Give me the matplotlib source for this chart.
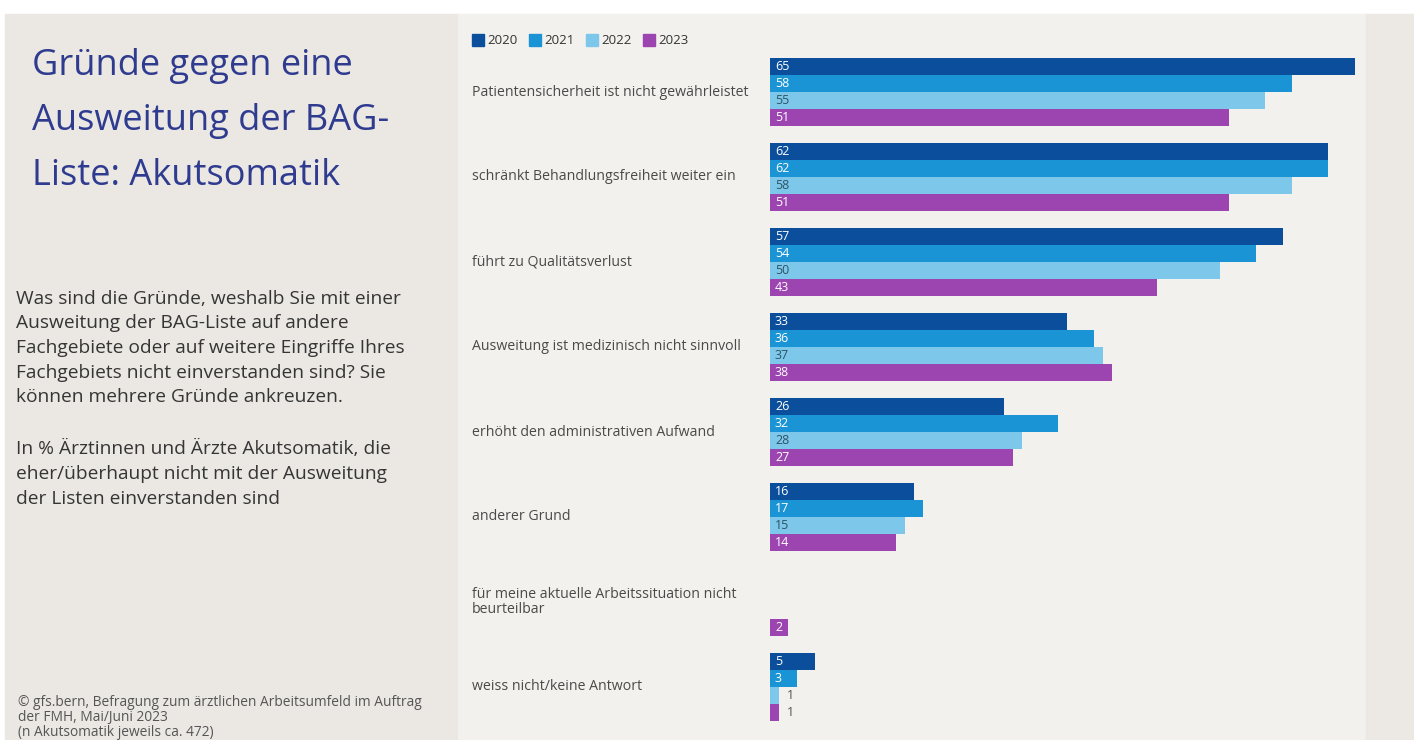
import matplotlib
matplotlib.use("Agg")
import matplotlib.pyplot as plt
import matplotlib.patches as mpatches
import matplotlib.transforms as mtrans
import numpy as np

# data
categories = [
    "Patientensicherheit ist nicht gewährleistet",
    "schränkt Behandlungsfreiheit weiter ein",
    "führt zu Qualitätsverlust",
    "Ausweitung ist medizinisch nicht sinnvoll",
    "erhöht den administrativen Aufwand",
    "anderer Grund",
    "für meine aktuelle Arbeitssituation nicht\nbeurteilbar",
    "weiss nicht/keine Antwort",
]
years = ["2020", "2021", "2022", "2023"]
v2020 = [65, 62, 57, 33, 26, 16, None, 5]
v2021 = [58, 62, 54, 36, 32, 17, None, 3]
v2022 = [55, 58, 50, 37, 28, 15, None, 1]
v2023 = [51, 51, 43, 38, 27, 14, 2, 1]
series = [v2020, v2021, v2022, v2023]

colors = ["#0b4f9c", "#1b94d6", "#7dc8ea", "#9c45b1"]
text_cols = ["white", "white", "#2d5366", "white"]

W, H = 1414, 740
fig = plt.figure(figsize=(W / 100, H / 100), dpi=100, facecolor="white")

def fx(px):
    return px / W

def fy(py):
    return 1 - py / H

# background panels
fig.patches.append(mpatches.Rectangle((fx(5), 0), fx(453), fy(14), transform=fig.transFigure,
                                      color="#ebe8e3", zorder=-10))
fig.patches.append(mpatches.Rectangle((fx(458), 0), fx(908), fy(14), transform=fig.transFigure,
                                      color="#f3f1ed", zorder=-10))
fig.patches.append(mpatches.Rectangle((fx(1366), 0), fx(48), fy(14), transform=fig.transFigure,
                                      color="#ece9e4", zorder=-10))

# axes: x 0..66 -> 770..1364 px, groups centered at 92 + 85*i
ax = fig.add_axes([fx(770), fy(729.5), fx(594), (729.5 - 49.5) / H])
ax.set_xlim(0, 66)
ax.set_ylim(7.5, -0.5)
ax.axis("off")

bh = 0.2
for j, (vals, c, tc) in enumerate(zip(series, colors, text_cols)):
    for i, v in enumerate(vals):
        if v is None:
            continue
        y = i + (j - 1.5) * bh
        ax.barh(y, v, height=bh, color=c, edgecolor="none")
        if v >= 2:
            ax.text(0.55, y, str(v), color=tc, fontsize=9, va="center", ha="left",
                    family="Open Sans")
        else:
            ax.text(v + 0.9, y, str(v), color="#555555", fontsize=9, va="center", ha="left",
                    family="Open Sans")

# category labels
tr = mtrans.blended_transform_factory(fig.transFigure, ax.transData)
for i, cat in enumerate(categories):
    ax.text(fx(472), i, cat, transform=tr, fontsize=10.2, color="#4a4a4a", va="center",
            ha="left", family="Open Sans", linespacing=1.05)

# legend
x0 = 472
for j, y in enumerate(years):
    fig.patches.append(mpatches.Rectangle((fx(x0), fy(46)), fx(12), 12 / H,
                                          transform=fig.transFigure, color=colors[j]))
    fig.text(fx(x0 + 15), fy(40.5), y, fontsize=9.5, color="#333333", va="center", ha="left",
             family="Open Sans")
    x0 += 57

# left panel texts
fig.text(fx(32), fy(121), "Gründe gegen eine\nAusweitung der BAG-\nListe: Akutsomatik",
         fontsize=26, color="#2f3b8f", va="center", ha="left", linespacing=1.72,
         family="Open Sans")
fig.text(fx(16), fy(348), "Was sind die Gründe, weshalb Sie mit einer\n"
         "Ausweitung der BAG-Liste auf andere\n"
         "Fachgebiete oder auf weitere Eingriffe Ihres\n"
         "Fachgebiets nicht einverstanden sind? Sie\n"
         "können mehrere Gründe ankreuzen.",
         fontsize=13.8, color="#353535", va="center", ha="left", linespacing=1.48,
         family="Open Sans")
fig.text(fx(16), fy(474), "In % Ärztinnen und Ärzte Akutsomatik, die\n"
         "eher/überhaupt nicht mit der Ausweitung\n"
         "der Listen einverstanden sind",
         fontsize=13.8, color="#353535", va="center", ha="left", linespacing=1.48,
         family="Open Sans")
fig.text(fx(18), fy(695), "© gfs.bern, Befragung zum ärztlichen Arbeitsumfeld im Auftrag\n"
         "der FMH, Mai/Juni 2023\n"
         "(n Akutsomatik jeweils ca. 472)",
         fontsize=9.9, color="#555555", va="top", ha="left", linespacing=1.0,
         family="Open Sans")

fig.savefig("out.png", dpi=100, facecolor=fig.get_facecolor())
